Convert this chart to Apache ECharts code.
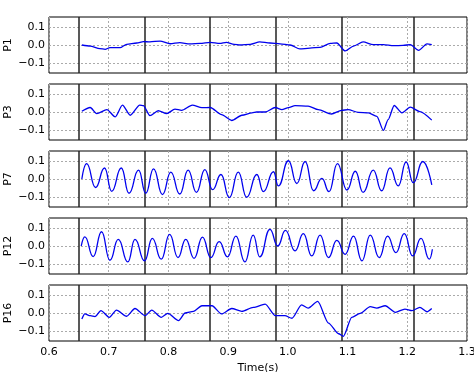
<!DOCTYPE html>
<html><head><meta charset="utf-8">
<script src="https://cdn.jsdelivr.net/npm/echarts@6/dist/echarts.min.js"></script>
<style>html,body{margin:0;padding:0;background:#fff}#c{width:474px;height:372px}</style>
</head><body><div id="c"></div>
<script>
const panelNames = ['P1', 'P3', 'P7', 'P12', 'P16'];
const xTicks = [0.6, 0.7, 0.8, 0.9, 1.0, 1.1, 1.2, 1.3];
const yTicks = [-0.1, 0.0, 0.1];
const eventTimes = [0.647, 0.759, 0.871, 0.984, 1.094, 1.207];

const p1 = [[.655,0],[.669,-.006],[.685,-.020],[.694,-.024],[.702,-.015],[.719,-.015],[.730,.004],[.747,.011],[.758,.019],[.769,.017],[.786,.022],[.803,.007],[.819,.013],[.836,.006],[.853,.009],[.870,.015],[.886,.009],[.897,.015],[.910,.004],[.920,0],[.937,.004],[.953,.017],[.970,.011],[.987,.006],[1.004,0],[1.020,-.022],[1.037,-.017],[1.054,-.013],[1.071,.009],[1.082,.011],[1.096,-.033],[1.110,-.006],[1.126,.017],[1.143,.002],[1.160,.002],[1.177,-.004],[1.193,-.002],[1.205,.002],[1.219,-.030],[1.233,.006],[1.241,.002]];

const p3 = [[.655,.004],[.669,.025],[.680,-.009],[.697,.013],[.711,-.027],[.723,.038],[.736,-.018],[.752,.038],[.758,.035],[.769,-.020],[.783,.007],[.797,-.009],[.811,.016],[.822,.009],[.840,.038],[.856,.024],[.870,.025],[.889,-.015],[.906,-.047],[.923,-.018],[.940,-.005],[.948,0],[.962,0],[.979,.025],[.990,.013],[1.001,.024],[1.012,.035],[1.034,.033],[1.051,.013],[1.073,-.011],[1.090,.009],[1.101,.013],[1.118,-.002],[1.135,-.005],[1.149,-.024],[1.160,-.102],[1.168,-.042],[1.178,.036],[1.191,-.005],[1.205,.027],[1.221,.002],[1.241,-.045]];

const p7 = [[.655,0],[.663,.085],[.678,-.047],[.693,.061],[.705,-.068],[.721,.061],[.734,-.079],[.750,.049],[.762,-.079],[.775,.056],[.790,-.086],[.804,.038],[.819,-.083],[.833,.049],[.847,-.074],[.861,.052],[.874,-.059],[.888,.025],[.902,-.103],[.917,.038],[.931,-.101],[.948,.025],[.959,-.070],[.976,.040],[.984,-.038],[1.001,.101],[1.015,-.025],[1.029,.097],[1.043,-.065],[1.057,.004],[1.069,-.070],[1.083,.085],[1.099,-.061],[1.113,.043],[1.126,-.074],[1.143,.049],[1.157,-.065],[1.171,.062],[1.185,-.038],[1.198,.094],[1.210,-.020],[1.226,.097],[1.241,-.032]];

const p12 = [[.654,0],[.660,.051],[.674,-.059],[.688,.079],[.702,-.079],[.716,.037],[.732,-.088],[.744,.037],[.760,-.082],[.773,.042],[.788,-.073],[.802,.064],[.816,-.064],[.829,.037],[.843,-.068],[.857,.049],[.871,-.064],[.885,.024],[.899,-.060],[.913,.055],[.928,-.088],[.942,.060],[.953,-.060],[.970,.092],[.983,0],[.996,.086],[1.012,-.027],[1.026,.068],[1.040,-.055],[1.054,.060],[1.068,-.064],[1.082,.031],[1.096,-.046],[1.110,.055],[1.124,-.082],[1.138,.060],[1.153,-.064],[1.167,.055],[1.181,-.037],[1.195,.068],[1.209,-.055],[1.223,.042],[1.237,-.073],[1.242,-.018]];

const p16 = [[.655,-.033],[.660,-.005],[.669,-.015],[.677,-.020],[.687,.013],[.701,-.024],[.713,.016],[.730,-.018],[.744,.025],[.761,-.015],[.772,.016],[.788,-.024],[.799,-.002],[.817,-.042],[.828,0],[.842,.009],[.856,.040],[.873,.040],[.889,-.005],[.906,.025],[.923,.009],[.942,.031],[.962,.049],[.979,-.015],[.995,-.015],[1.007,-.029],[1.023,.045],[1.034,.027],[1.050,.064],[1.068,-.056],[1.085,-.115],[1.093,-.129],[1.107,-.024],[1.121,-.002],[1.138,.035],[1.149,.027],[1.163,.040],[1.180,.004],[1.196,.022],[1.208,.013],[1.221,.031],[1.233,.007],[1.241,.025]];

const seriesData = [p1, p3, p7, p12, p16];
const smoothness = [0.25, 0.25, 0.5, 0.5, 0.25];

const font = 'DejaVu Sans';
const tops = [17, 84, 151, 218, 285];
const panelH = 56;
const grids = [], xAxes = [], yAxes = [], series = [], graphics = [];
const fmt = v => Math.abs(v) < 1e-9 ? '0.0' : (v < 0 ? '\u2212' : '') + Math.abs(v).toFixed(1);

panelNames.forEach((name, i) => {
  const last = i === panelNames.length - 1;
  grids.push({left: 49, right: 7, top: tops[i], height: panelH, containLabel: false, outerBoundsMode: 'none',
    show: true, borderColor: '#000', borderWidth: 1, backgroundColor: '#fff'});
  xAxes.push({
    type: 'value', gridIndex: i, min: 0.6, max: 1.3, interval: 0.1,
    axisLine: {show: false}, axisTick: {show: false},
    axisLabel: {show: last, fontFamily: font, fontSize: 11, color: '#000', margin: 6, formatter: v => v.toFixed(1)},
    splitLine: {show: true, lineStyle: {color: '#aaa', type: [2, 2], width: 1}},
    name: last ? 'Time(s)' : '', nameLocation: 'middle', nameGap: 22,
    nameTextStyle: {fontFamily: font, fontSize: 11, color: '#000'}
  });
  yAxes.push({
    type: 'value', gridIndex: i, min: -0.155, max: 0.155,
    axisLine: {show: false}, axisTick: {show: false},
    axisLabel: {customValues: yTicks, fontFamily: font, fontSize: 11, color: '#000', margin: 4, formatter: fmt},
    splitLine: {show: false}
  });
  graphics.push({
    type: 'text', x: 8, y: tops[i] + panelH / 2, rotation: Math.PI / 2,
    style: {text: name, font: '11px "DejaVu Sans"', fill: '#000', align: 'center', verticalAlign: 'middle'}
  });
  const ml = [];
  yTicks.forEach(v => ml.push({yAxis: v, lineStyle: {color: '#aaa', type: [2, 2], width: 1}}));
  eventTimes.forEach(t => ml.push({xAxis: t, lineStyle: {color: '#222', type: 'solid', width: 1.5}}));
  series.push({
    type: 'line', xAxisIndex: i, yAxisIndex: i, data: seriesData[i],
    showSymbol: false, smooth: smoothness[i], smoothMonotone: 'x',
    lineStyle: {color: '#0000ee', width: 1.3},
    z: 3,
    markLine: {silent: true, symbol: 'none', label: {show: false}, data: ml, animation: false, z: 2}
  });
});

const chart = echarts.init(document.getElementById('c'), null, {renderer: 'canvas'});
chart.setOption({animation: false, grid: grids, xAxis: xAxes, yAxis: yAxes, series: series, graphic: graphics});
</script></body></html>
